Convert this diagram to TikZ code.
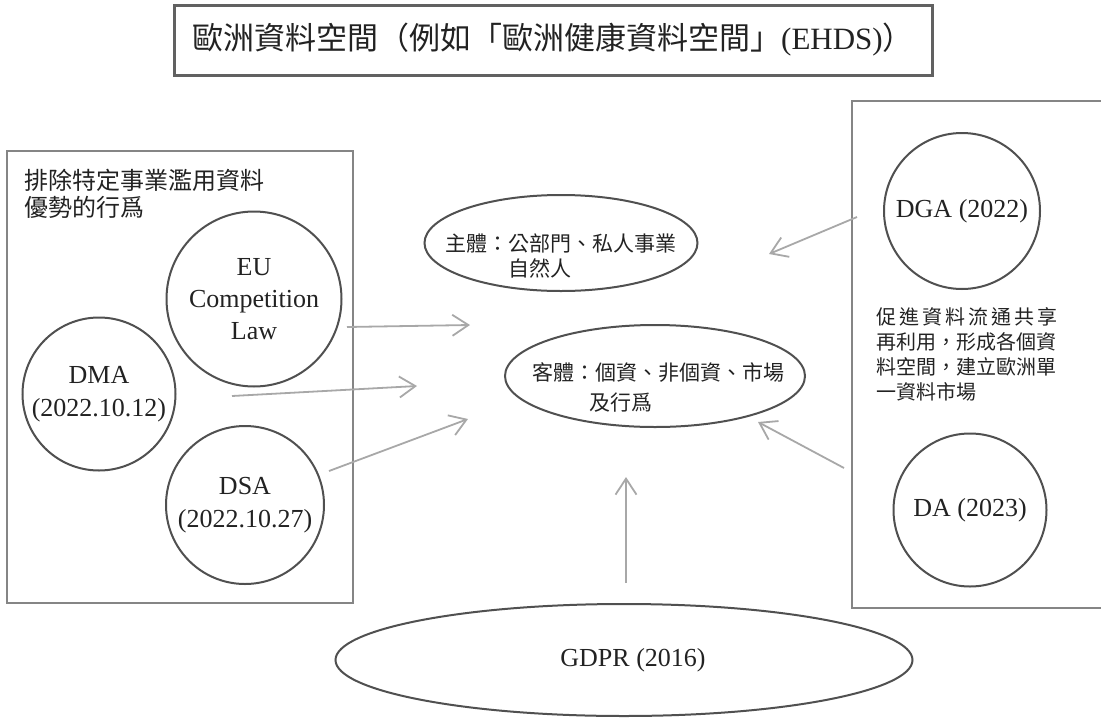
\documentclass[tikz,border=0pt]{standalone}
\usepackage{fontspec}
\setmainfont{Liberation Serif}
\newfontfamily\cjk{Noto Sans CJK TC}
\usetikzlibrary{arrows.meta,shapes.geometric}
\definecolor{ink}{HTML}{222222}
\definecolor{shape}{HTML}{505050}
\definecolor{boxc}{HTML}{858585}
\definecolor{arrc}{HTML}{A8A8A8}
\tikzset{
  lawcircle/.style={circle,draw=shape,line width=2pt,inner sep=0pt,text=ink,align=center,font=\fontsize{26}{33}\selectfont},
  oval/.style={ellipse,draw=shape,line width=2pt,inner sep=0pt},
  ovaltext/.style={align=left,inner sep=0pt,text=ink},
  groupbox/.style={draw=boxc,line width=2.5pt},
  arr/.style={draw=arrc,line width=1.8pt,-{Straight Barb[length=16pt,width=21pt]}},
}
\begin{document}
\begin{tikzpicture}[x=1pt,y=-1pt]
\useasboundingbox (0,0) rectangle (1101,718);
% title
\node[draw=shape!90,line width=3pt,minimum width=758pt,minimum height=70pt,inner sep=0pt,text=ink,font=\fontsize{31}{36}\selectfont] (title) at (553,40) {{\cjk 歐洲資料空間（例如「歐洲健康資料空間」}(EHDS){\cjk ）}};
% group boxes
\draw[groupbox] (7,151) rectangle (353,603);
\draw[groupbox] (852,101) rectangle (1112,608);
\node[anchor=west,align=left,inner sep=0pt,text=ink,font=\cjk\fontsize{24}{27}\selectfont] (lefttxt) at (24,194) {排除特定事業濫用資料\\優勢的行爲};
\node[anchor=west,align=left,inner sep=0pt,text=ink,font=\cjk\fontsize{20}{25}\selectfont] (righttxt) at (876,354) {\makebox[181pt][s]{促\hfill 進\hfill 資\hfill 料\hfill 流\hfill 通\hfill 共\hfill 享}\\再利用，形成各個資\\料空間，建立歐洲單\\一資料市場};
% circles
\node[lawcircle,minimum size=175pt] (eu) at (254,299) {EU\\[-1pt]Competition\\[-1pt]Law};
\node[lawcircle,minimum size=153pt] (dma) at (99,394) {DMA\\(2022.10.12)};
\node[lawcircle,minimum size=158pt] (dsa) at (245,505) {DSA\\(2022.10.27)};
\node[lawcircle,minimum size=156pt] (dga) at (962,211) {DGA (2022)};
\node[lawcircle,minimum size=153pt] (da) at (970,510) {DA (2023)};
% ellipses
\node[oval,minimum width=273pt,minimum height=96pt] (subj) at (561,243) {};
\node[ovaltext,font=\cjk\fontsize{21}{25}\selectfont] (subjtxt) at (561,256) {主體：公部門、私人事業\\\hspace*{3em}自然人};
\node[oval,minimum width=300pt,minimum height=102pt] (obj) at (655,376) {};
\node[ovaltext,font=\cjk\fontsize{21}{30}\selectfont] (objtxt) at (658,388) {客體：個資、非個資、市場\\\hspace*{2.75em}及行爲};
\node[oval,minimum width=577pt,minimum height=112pt] (gdpr) at (624,660) {};
\node[inner sep=0pt,text=ink,font=\fontsize{26}{30}\selectfont] (gdprtxt) at (633,660) {GDPR (2016)};
% arrow coordinates
\coordinate (euS) at (347,327);  \coordinate (euE) at (470,325);
\coordinate (dmaS) at (232,396); \coordinate (dmaE) at (417,386);
\coordinate (dsaS) at (329,471); \coordinate (dsaE) at (468,419);
\coordinate (dgaS) at (857,217); \coordinate (dgaE) at (769,254);
\coordinate (daS) at (844,468);  \coordinate (daE) at (758,422);
\coordinate (gdS) at (626,583);  \coordinate (gdE) at (626,477);
\draw[arr] (euS) -- (euE);
\draw[arr] (dmaS) -- (dmaE);
\draw[arr] (dsaS) -- (dsaE);
\draw[arr] (dgaS) -- (dgaE);
\draw[arr] (daS) -- (daE);
\draw[arr] (gdS) -- (gdE);
\end{tikzpicture}
\end{document}
